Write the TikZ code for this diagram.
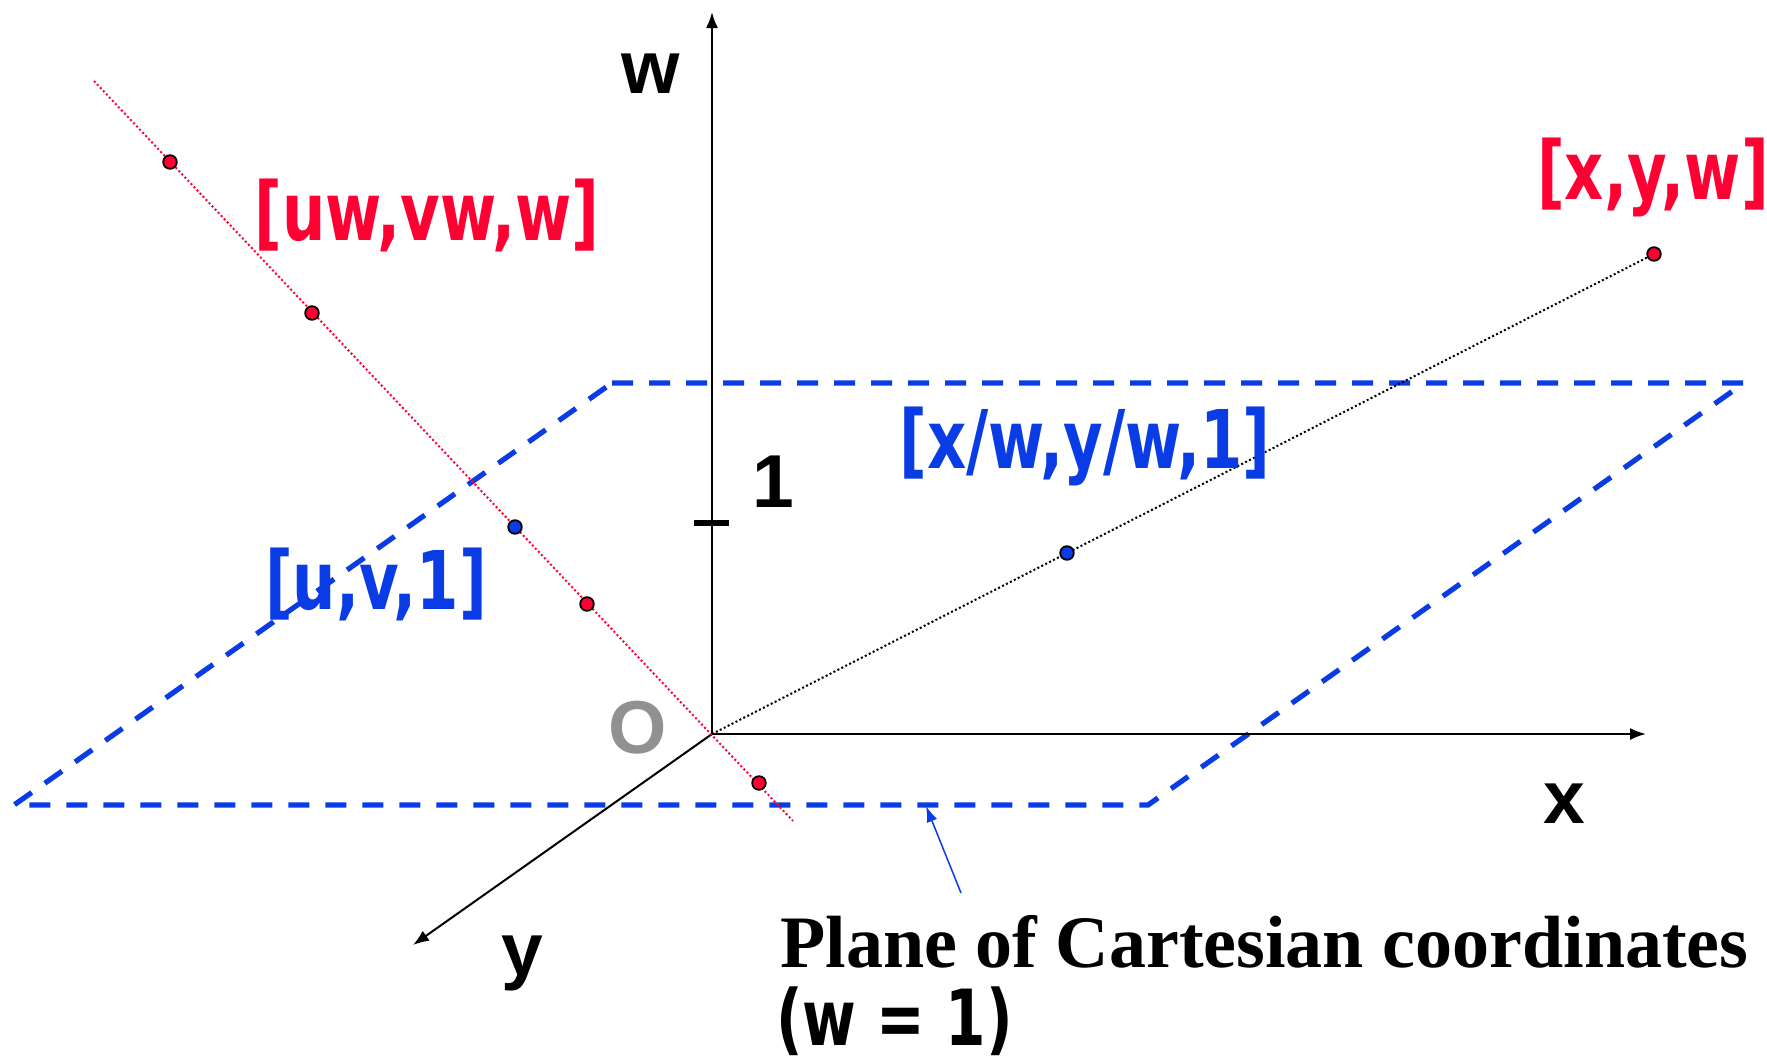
\documentclass[tikz,border=0pt]{standalone}
\usepackage{fontspec}
\usetikzlibrary{arrows.meta}
\newfontfamily\labfont{DejaVu Sans Condensed}[FakeStretch=0.835]
\newfontfamily\axfont{Liberation Sans}
\newfontfamily\capfont{Liberation Serif}
\definecolor{pred}{RGB}{255,0,51}
\definecolor{pblue}{RGB}{10,60,230}
\definecolor{ogray}{RGB}{145,145,145}
\tikzset{
  axisline/.style={line width=1pt, -{Latex[length=8pt,width=6pt]}},
  planeline/.style={pblue, line width=2.6pt, dash pattern=on 10.5pt off 8pt},
  rdotted/.style={pred, line width=1pt, dash pattern=on 1pt off 1.2pt},
  kdotted/.style={black, line width=1pt, dash pattern=on 1pt off 1.2pt},
  rpt/.style={circle, draw=black, line width=0.9pt, fill=pred, minimum size=6.8pt, inner sep=0pt},
  bpt/.style={circle, draw=black, line width=0.9pt, fill=pblue, minimum size=6.8pt, inner sep=0pt},
  lab/.style={inner sep=0pt, anchor=base, font=\labfont\bfseries\fontsize{40.5}{42}\selectfont},
  axlab/.style={inner sep=0pt, anchor=base, font=\axfont\bfseries\fontsize{37.5}{40}\selectfont},
  caplab/.style={inner sep=0pt, anchor=base west, font=\capfont\bfseries\fontsize{37}{40}\selectfont},
  pointer/.style={pblue, line width=0.75pt, -{Latex[length=8pt,width=5.5pt]}}
}
\begin{document}
\begin{tikzpicture}[x=0.5pt,y=-0.5pt]
\path[use as bounding box] (0,0) rectangle (1767,1061);
% plane w = 1
\coordinate (pTL) at (612,383);
\coordinate (pTR) at (1744,383);
\coordinate (pBR) at (1148,805);
\coordinate (pBL) at (14,805);
\draw[planeline] (pTL) -- (pTR) -- (pBR) -- (pBL) -- cycle;
% axes
\coordinate (O) at (712,734);
\coordinate (wtip) at (712,12);
\coordinate (xtip) at (1646,734);
\coordinate (ytip) at (413,945);
\draw[axisline] (O) -- (wtip);
\draw[axisline] (O) -- (xtip);
\draw[axisline] (O) -- (ytip);
\coordinate (tickL) at (694,523);
\coordinate (tickR) at (729,523);
\draw[line width=3pt] (tickL) -- (tickR);
% projection lines
\coordinate (rs) at (94,81);
\coordinate (re) at (793,821);
\draw[rdotted] (rs) -- (re);
\coordinate (pxyw) at (1654,254);
\draw[kdotted] (O) -- (pxyw);
% points
\node[rpt] (r1) at (170,162) {};
\node[rpt] (r2) at (312,313) {};
\node[bpt] (b1) at (515,527) {};
\node[rpt] (r3) at (587,604) {};
\node[rpt] (r4) at (759,783) {};
\node[bpt] (b2) at (1067,553) {};
\node[rpt] (r5) at (pxyw) {};
% labels
\node[lab, text=pred] (luw) at (427,240) {[uw,vw,w]};
\node[lab, text=pred] (lxyw) at (1653,199) {[x,y,w]};
\node[lab, text=pblue] (lxw) at (1085,468) {[x/w,y/w,1]};
\node[lab, text=pblue] (luv) at (376,609) {[u,v,1]};
\node[axlab] (lw) at (651,93) {w};
\node[axlab] (lone) at (773,507) {1};
\node[axlab] (lx) at (1564,823) {x};
\node[axlab] (ly) at (522,975) {y};
\node[axlab, text=ogray] (lO) at (638,753) {O};
% caption
\node[caplab] (cap1) at (780,967) {Plane of Cartesian coordinates};
\node[inner sep=0pt, anchor=base west, font=\labfont\bfseries\fontsize{38.7}{40}\selectfont] (cap2) at (776,1045) {(w = 1)};
\coordinate (arrtail) at (961,893);
\coordinate (arrtip) at (926,806);
\draw[pointer] (arrtail) -- (arrtip);
\end{tikzpicture}
\end{document}
